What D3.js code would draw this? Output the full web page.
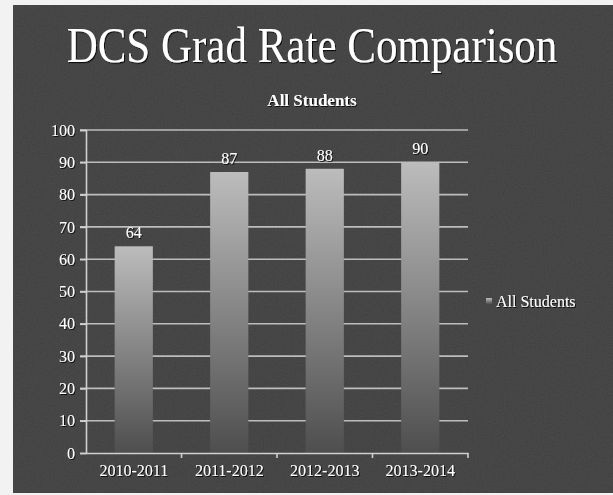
<!DOCTYPE html>
<html><head><meta charset="utf-8">
<script src="https://cdn.jsdelivr.net/npm/d3@7"></script>
<style>body{margin:0;background:#fff;}svg{display:block;}</style>
</head><body>
<svg id="c" width="613" height="495"></svg>
<script>
const categories = ["2010-2011","2011-2012","2012-2013","2013-2014"];
const values = [64, 87, 88, 90];
const yTicks = [0,10,20,30,40,50,60,70,80,90,100];
const seriesName = "All Students";
const title = "DCS Grad Rate Comparison";

const svg = d3.select("#c");
const serif = "'Liberation Serif','Times New Roman',serif";

const defs = svg.append("defs");
const f = defs.append("filter").attr("id","noise").attr("x",0).attr("y",0).attr("width","100%").attr("height","100%");
f.append("feTurbulence").attr("type","fractalNoise").attr("baseFrequency",0.9).attr("numOctaves",2).attr("seed",3).attr("result","t");
f.append("feColorMatrix").attr("type","saturate").attr("values",0).attr("in","t").attr("result","g");
f.append("feComponentTransfer").attr("in","g").append("feFuncA").attr("type","linear").attr("slope",0).attr("intercept",0.12);

const grad = defs.append("linearGradient").attr("id","bar").attr("x1",0).attr("y1",0).attr("x2",0).attr("y2",1);
grad.append("stop").attr("offset","0%").attr("stop-color","#bcbcbc");
grad.append("stop").attr("offset","100%").attr("stop-color","#4e4e4e");

const txtShadow = defs.append("filter").attr("id","sh");
txtShadow.append("feDropShadow").attr("dx",1).attr("dy",1).attr("stdDeviation",0.6).attr("flood-color","#000").attr("flood-opacity",0.8);

// background
svg.append("rect").attr("x",0).attr("y",0).attr("width",613).attr("height",495).attr("fill","#f2f2f2");
svg.append("rect").attr("x",13).attr("y",5).attr("width",600).attr("height",488).attr("fill","#363636");
svg.append("rect").attr("x",13).attr("y",5).attr("width",600).attr("height",488).attr("filter","url(#noise)");

const x = d3.scaleBand().domain(categories).range([86,468]).paddingInner(0.6).paddingOuter(0.3);
const xb = d3.scaleBand().domain(categories).range([86,468]);
const y = d3.scaleLinear().domain([0,100]).range([453,130]);

// title
svg.append("text").attr("transform","translate(312,62) scale(1,1.18)").attr("text-anchor","middle")
  .attr("font-family",serif).attr("font-size",43).attr("fill","#fff").attr("filter","url(#sh)").text(title);
svg.append("text").attr("x",312).attr("y",106).attr("text-anchor","middle")
  .attr("font-family",serif).attr("font-weight","bold").attr("font-size",17).attr("fill","#fff").attr("filter","url(#sh)").text(seriesName);

// gridlines
svg.append("g").selectAll("line").data(yTicks.filter(d=>d>0)).join("line")
  .attr("x1",80).attr("x2",468).attr("y1",d=>y(d)).attr("y2",d=>y(d))
  .attr("stroke","#bdbdbd").attr("stroke-width",1.6);

// y axis
const ya = svg.append("g").attr("transform","translate(86,0)")
  .call(d3.axisLeft(y).tickValues(yTicks).tickSize(6).tickPadding(5));
ya.select(".domain").attr("stroke","#d0d0d0").attr("stroke-width",1.6);
ya.selectAll(".tick line").attr("stroke","#d0d0d0").attr("stroke-width",1.6);
ya.selectAll("text").attr("font-family",serif).attr("font-size",16).attr("fill","#fff").attr("filter","url(#sh)");

// bars
svg.append("g").selectAll("rect").data(values).join("rect")
  .attr("x",(d,i)=>x(categories[i])).attr("width",x.bandwidth())
  .attr("y",d=>y(d)).attr("height",d=>y(0)-y(d)).attr("fill","url(#bar)");

// value labels
svg.append("g").selectAll("text").data(values).join("text")
  .attr("x",(d,i)=>x(categories[i])+x.bandwidth()/2).attr("y",d=>y(d)-8)
  .attr("text-anchor","middle").attr("font-family",serif).attr("font-size",16)
  .attr("fill","#fff").attr("filter","url(#sh)").text(d=>d);

// x axis
const xa = svg.append("g").attr("transform","translate(0,453)")
  .call(d3.axisBottom(xb).tickSize(0).tickPadding(12));
xa.select(".domain").attr("stroke","#d0d0d0").attr("stroke-width",1.6);
xa.selectAll("text").attr("font-family",serif).attr("font-size",16).attr("fill","#fff").attr("filter","url(#sh)");
svg.append("g").selectAll("line").data(categories).join("line")
  .attr("x1",d=>xb(d)+xb.bandwidth()).attr("x2",d=>xb(d)+xb.bandwidth())
  .attr("y1",453).attr("y2",458).attr("stroke","#d0d0d0").attr("stroke-width",1.6);

// legend
svg.append("rect").attr("x",486).attr("y",298).attr("width",6).attr("height",6).attr("fill","url(#bar)");
svg.append("text").attr("x",496).attr("y",307).attr("font-family",serif).attr("font-size",16)
  .attr("fill","#fff").attr("filter","url(#sh)").text(seriesName);
</script>
</body></html>
